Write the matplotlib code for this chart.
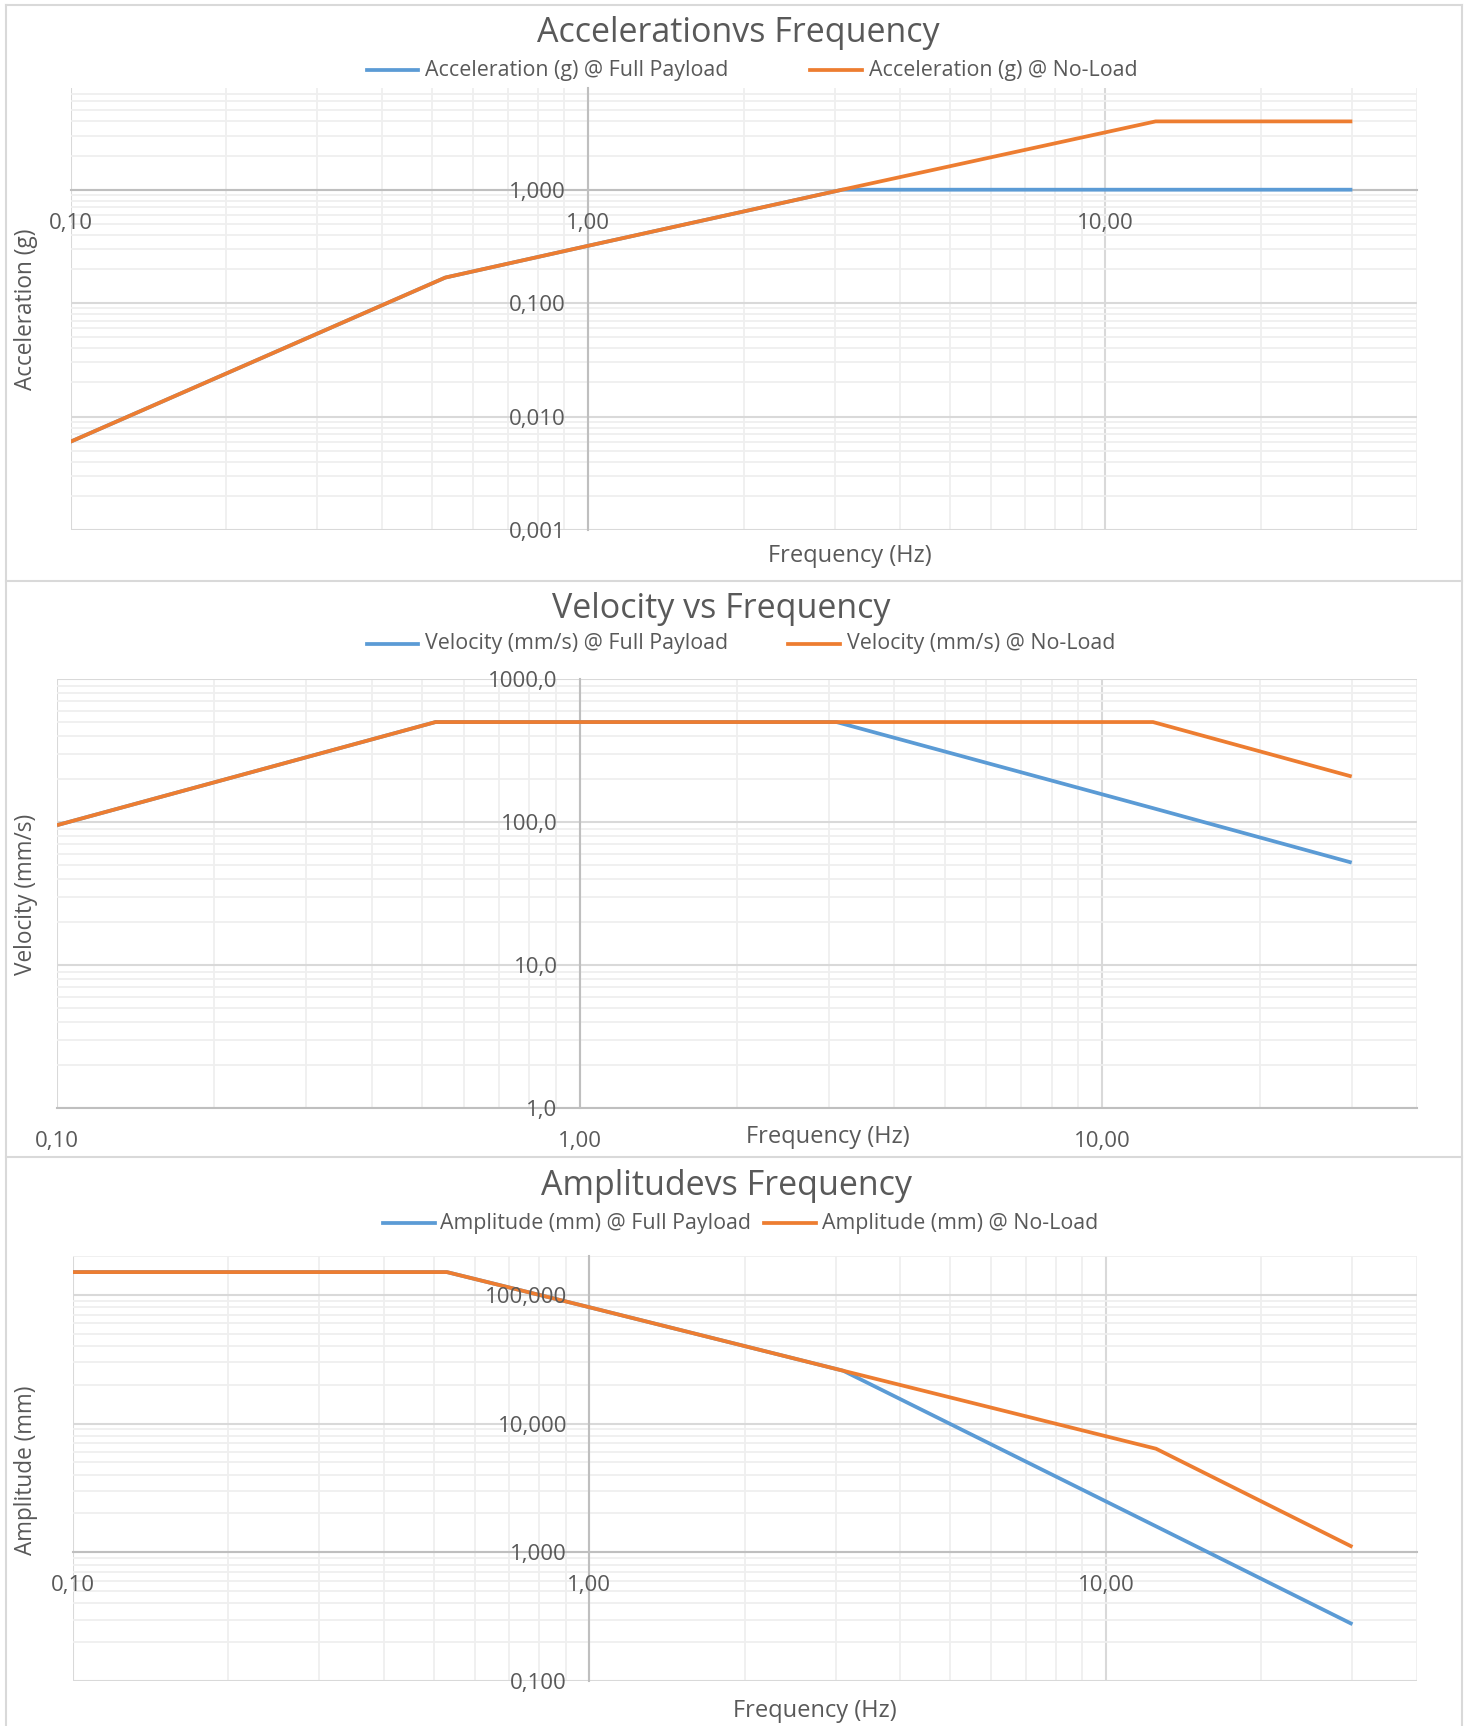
import matplotlib
matplotlib.use('Agg')
import matplotlib.pyplot as plt
from matplotlib.lines import Line2D
from matplotlib.transforms import ScaledTranslation
from matplotlib.ticker import FixedLocator, LogLocator, NullFormatter

# values (breakpoints of each curve)
freq = [0.10, 0.53, 1.00, 3.10, 12.50, 30.00]
acc_full = [0.006, 0.168, 0.32, 1.00, 1.00, 1.00]
acc_noload = [0.006, 0.168, 0.32, 1.00, 4.00, 4.00]
vel_full = [95.0, 500.0, 500.0, 500.0, 125.0, 52.0]
vel_noload = [95.0, 500.0, 500.0, 500.0, 500.0, 208.0]
amp_full = [150.0, 150.0, 80.0, 25.7, 1.59, 0.276]
amp_noload = [150.0, 150.0, 80.0, 25.7, 6.37, 1.10]

x_ticks = [0.1, 1, 10]
x_tick_labels = ['0,10', '1,00', '10,00']
acc_ticks = [0.001, 0.01, 0.1, 1]
acc_tick_labels = ['0,001', '0,010', '0,100', '1,000']
vel_ticks = [1, 10, 100, 1000]
vel_tick_labels = ['1,0', '10,0', '100,0', '1000,0']
amp_ticks = [0.1, 1, 10, 100]
amp_tick_labels = ['0,100', '1,000', '10,000', '100,000']

BLUE = '#5B9BD5'
ORANGE = '#ED7D31'
TXT = '#595959'
W, H = 1470, 1726

plt.rcParams['font.family'] = ['Open Sans', 'DejaVu Sans']
fig = plt.figure(figsize=(W / 100, H / 100), dpi=100)


def fx(x):
    return x / W


def fy(y):
    return 1 - y / H


def chart(box, full, noload, ylim, yticks, ylabels, title, title_pos,
          ytitle, ytitle_pos, xtitle_pos, leg_labels, leg_x, leg_y):
    x0, y0, x1, y1 = box
    ax = fig.add_axes([fx(x0), fy(y1), (x1 - x0) / W, (y1 - y0) / H])
    ax.set_xscale('log')
    ax.set_yscale('log')
    ax.set_xlim(0.1, 40)
    ax.set_ylim(*ylim)
    ax.plot(freq, full, color=BLUE, lw=2.7, solid_capstyle='butt', zorder=3)
    ax.plot(freq, noload, color=ORANGE, lw=2.7, solid_capstyle='butt', zorder=4)

    ax.xaxis.set_major_locator(FixedLocator(x_ticks))
    ax.yaxis.set_major_locator(FixedLocator(yticks))
    for a in (ax.xaxis, ax.yaxis):
        a.set_minor_locator(LogLocator(base=10, subs=range(2, 10), numticks=20))
        a.set_minor_formatter(NullFormatter())
    ax.tick_params(which='both', length=0, labelbottom=False, labelleft=False)
    ax.grid(which='major', color='#d9d9d9', lw=1.5)
    ax.grid(which='minor', color='#efefef', lw=1.3)
    ax.set_axisbelow(True)

    # axes cross at (1, 1) as in the original
    for s in ('top', 'right'):
        ax.spines[s].set_visible(False)
    ax.spines['bottom'].set_position(('data', 1.0))
    ax.spines['left'].set_position(('data', 1.0))
    for s in ('bottom', 'left'):
        ax.spines[s].set_color('#bfbfbf')
        ax.spines[s].set_linewidth(1.5)
        ax.spines[s].set_zorder(2)

    # tick labels drawn on top of lines, next to the crossing axes
    down = ax.transData + ScaledTranslation(0, -16.5 / 72, fig.dpi_scale_trans)
    for v, lab in zip(x_ticks, x_tick_labels):
        ax.text(v, 1.0, lab, transform=down, ha='center', va='top', fontsize=16,
                color=TXT, zorder=6, clip_on=False)
    left = ax.transData + ScaledTranslation(-16 / 72, 0, fig.dpi_scale_trans)
    for v, lab in zip(yticks, ylabels):
        ax.text(1.0, v, lab, transform=left, ha='right', va='center_baseline',
                fontsize=16, color=TXT, zorder=6, clip_on=False)

    fig.text(fx(title_pos[0]), fy(title_pos[1]), title, fontsize=24.5,
             color=TXT, ha='center', va='center')
    fig.text(fx(ytitle_pos[0]), fy(ytitle_pos[1]), ytitle, fontsize=16.3,
             color=TXT, ha='center', va='center', rotation=90)
    fig.text(fx(xtitle_pos[0]), fy(xtitle_pos[1]), 'Frequency (Hz)', fontsize=17,
             color=TXT, ha='center', va='center')

    for lab, col, (la, lb, lt) in zip(leg_labels, [BLUE, ORANGE], leg_x):
        fig.add_artist(Line2D([fx(la), fx(lb)], [fy(leg_y), fy(leg_y)],
                              color=col, lw=2.7, transform=fig.transFigure))
        fig.text(fx(lt), fy(leg_y), lab, fontsize=15.4, color=TXT,
                 ha='left', va='center')
    return ax


chart((70.5, 88.5, 1417, 530), acc_full, acc_noload, (0.001, 7.8),
      acc_ticks, acc_tick_labels, 'Accelerationvs Frequency', (738, 33),
      'Acceleration (g)', (26, 309), (850, 556),
      ['Acceleration (g) @ Full Payload', 'Acceleration (g) @ No-Load'],
      [(367, 418, 425), (810, 862, 869)], 70.5)

chart((57, 679, 1417, 1108), vel_full, vel_noload, (1, 1000),
      vel_ticks, vel_tick_labels, 'Velocity vs Frequency', (721, 609),
      'Velocity (mm/s)', (26, 894), (828, 1137),
      ['Velocity (mm/s) @ Full Payload', 'Velocity (mm/s) @ No-Load'],
      [(367, 418, 425), (788, 840, 847)], 644)

chart((72.7, 1256, 1417, 1681), amp_full, amp_noload, (0.1, 200),
      amp_ticks, amp_tick_labels, 'Amplitudevs Frequency', (726, 1186),
      'Amplitude (mm)', (26, 1470), (815, 1711),
      ['Amplitude (mm) @ Full Payload', 'Amplitude (mm) @ No-Load'],
      [(383, 435, 440), (764, 816, 822)], 1223)

# panel borders
bc = '#d9d9d9'
for xv in (5.5, 1462):
    fig.add_artist(Line2D([fx(xv), fx(xv)], [fy(5.5), fy(1726)], color=bc, lw=1.5,
                          transform=fig.transFigure))
for yv in (5.5, 581, 1157):
    fig.add_artist(Line2D([fx(5.5), fx(1462)], [fy(yv), fy(yv)], color=bc, lw=1.5,
                          transform=fig.transFigure))

fig.savefig('out.png', dpi=100, facecolor='white')
